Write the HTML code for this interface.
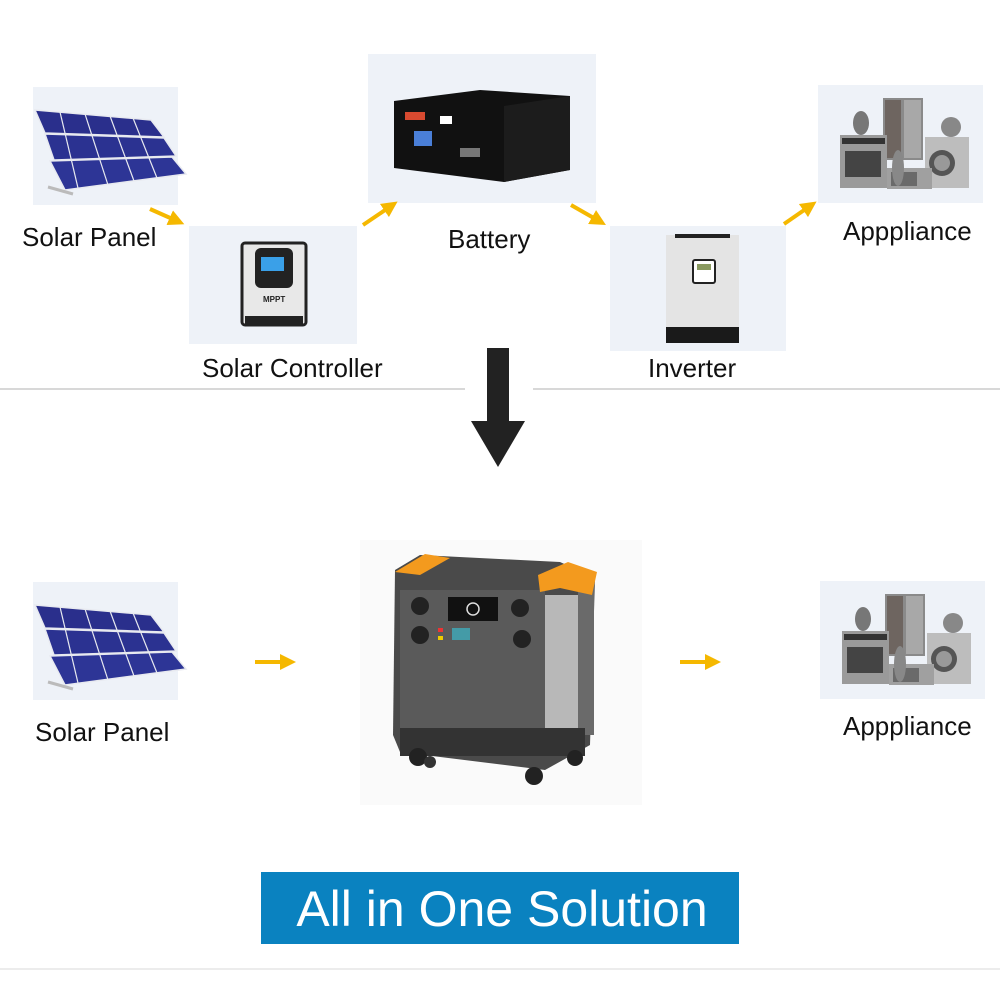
<!DOCTYPE html>
<html><head><meta charset="utf-8"><style>
html,body{margin:0;padding:0;background:#fff;}
svg{display:block;}
text{font-family:"Liberation Sans",Arial,sans-serif;}
</style></head><body>
<svg width="1000" height="1000" viewBox="0 0 1000 1000" xmlns="http://www.w3.org/2000/svg">
<defs>
  <g id="solar">
    <rect x="0" y="0" width="145" height="118" fill="#eef2f8"/>
    <polygon points="2,23 118,33 131,50 12,46" fill="#2a2f8c" stroke="#e8eaf0" stroke-width="1.5"/>
    <polygon points="12,47 131,51 143,69 21,73" fill="#2b3291" stroke="#e8eaf0" stroke-width="1.5"/>
    <polygon points="21,74 143,70 157,87 36,103" fill="#2d3596" stroke="#e8eaf0" stroke-width="1.5" transform="translate(-4,0)"/>
    <g stroke="#e8eaf0" stroke-width="1.2">
      <line x1="27" y1="25" x2="45" y2="101"/><line x1="52" y1="27" x2="75" y2="98"/>
      <line x1="77" y1="29" x2="101" y2="94"/><line x1="100" y1="31" x2="124" y2="91"/>
    </g>
    <line x1="15" y1="100" x2="40" y2="107" stroke="#bbb" stroke-width="3"/>
  </g>
  <g id="appl">
    <rect x="0" y="0" width="165" height="118" fill="#eef2f8"/>
    <rect x="65" y="13" width="40" height="62" fill="#8a8a8a"/>
    <rect x="67" y="15" width="16" height="58" fill="#6e6560"/>
    <rect x="86" y="15" width="17" height="58" fill="#a8a8a8"/>
    <rect x="22" y="50" width="47" height="53" fill="#9a9a9a"/>
    <rect x="27" y="66" width="36" height="26" fill="#444"/>
    <rect x="24" y="53" width="43" height="6" fill="#333"/>
    <rect x="107" y="52" width="44" height="51" fill="#bdbdbd"/>
    <circle cx="124" cy="78" r="13" fill="#555"/>
    <circle cx="124" cy="78" r="8" fill="#999"/>
    <rect x="69" y="83" width="45" height="21" fill="#a0a0a0"/>
    <rect x="73" y="87" width="26" height="14" fill="#6a6a6a"/>
    <ellipse cx="43" cy="38" rx="8" ry="12" fill="#777"/>
    <ellipse cx="80" cy="83" rx="6" ry="18" fill="#888"/>
    <ellipse cx="133" cy="42" rx="10" ry="10" fill="#888"/>
  </g>
  <marker id="ya" viewBox="0 0 10 10" refX="5" refY="5" markerWidth="4" markerHeight="4" orient="auto">
    <path d="M0,0 L10,5 L0,10 z" fill="#f5b800"/>
  </marker>
</defs>

<line x1="0" y1="389" x2="465" y2="389" stroke="#d8d8d8" stroke-width="2"/>
<line x1="533" y1="389" x2="1000" y2="389" stroke="#d8d8d8" stroke-width="2"/>
<line x1="0" y1="969" x2="1000" y2="969" stroke="#ececec" stroke-width="2"/>

<use href="#solar" x="33" y="87"/>
<text x="22" y="246" font-size="26" fill="#111">Solar Panel</text>

<rect x="189" y="226" width="168" height="118" fill="#eef2f8"/>
<rect x="242" y="243" width="64" height="82" rx="3" fill="#e8e8e8" stroke="#222" stroke-width="3"/>
<rect x="255" y="248" width="38" height="40" rx="6" fill="#222"/>
<rect x="261" y="257" width="23" height="14" fill="#3aa0e8"/>
<text x="263" y="302" font-size="8" font-weight="bold" fill="#222">MPPT</text>
<rect x="245" y="316" width="58" height="9" fill="#222"/>
<text x="202" y="377" font-size="26" fill="#111">Solar Controller</text>

<rect x="368" y="54" width="228" height="149" fill="#eef2f8"/>
<polygon points="394,101 480,90 570,96 570,170 504,182 394,168" fill="#111"/>
<polygon points="504,106 570,96 570,170 504,182" fill="#1c1c1c"/>
<rect x="405" y="112" width="20" height="8" fill="#d84a30"/>
<rect x="440" y="116" width="12" height="8" fill="#fff"/>
<rect x="414" y="131" width="18" height="15" fill="#4a7fd8"/>
<rect x="460" y="148" width="20" height="9" fill="#777"/>
<text x="448" y="248" font-size="26" fill="#111">Battery</text>

<rect x="610" y="226" width="176" height="125" fill="#eef2f8"/>
<rect x="666" y="235" width="73" height="108" fill="#e4e4e4"/>
<rect x="675" y="234" width="55" height="4" fill="#222"/>
<rect x="693" y="260" width="22" height="23" rx="2" fill="#fff" stroke="#222" stroke-width="2"/>
<rect x="697" y="264" width="14" height="6" fill="#8a9a60"/>
<rect x="666" y="327" width="73" height="16" fill="#1a1a1a"/>
<text x="648" y="377" font-size="26" fill="#111">Inverter</text>

<use href="#appl" x="818" y="85"/>
<text x="843" y="240" font-size="26" fill="#111">Apppliance</text>

<g stroke="#f5b800" stroke-width="4" fill="none" marker-end="url(#ya)">
  <line x1="150" y1="209" x2="177" y2="221"/>
  <line x1="363" y1="225" x2="391" y2="206"/>
  <line x1="571" y1="205" x2="599" y2="221"/>
  <line x1="784" y1="224" x2="810" y2="206"/>
</g>

<rect x="487" y="348" width="22" height="74" fill="#222"/>
<polygon points="471,421 525,421 498,467" fill="#222"/>

<use href="#solar" x="33" y="582"/>
<text x="35" y="741" font-size="26" fill="#111">Solar Panel</text>

<g stroke="#f5b800" stroke-width="4" fill="none" marker-end="url(#ya)">
  <line x1="255" y1="662" x2="288" y2="662"/>
  <line x1="680" y1="662" x2="713" y2="662"/>
</g>

<rect x="360" y="540" width="282" height="265" fill="#fafafa"/>
<polygon points="395,570 420,555 560,562 595,578 590,745 545,770 400,752 393,735" fill="#4a4a4a"/>
<rect x="400" y="590" width="145" height="155" fill="#5a5a5a"/>
<rect x="545" y="595" width="35" height="160" fill="#b8b8b8"/>
<rect x="578" y="585" width="16" height="150" fill="#6a6a6a"/>
<rect x="400" y="728" width="185" height="28" fill="#333"/>
<polygon points="395,572 425,554 450,558 420,575" fill="#f39a1e"/>
<polygon points="538,575 568,562 597,572 592,595 560,588 540,592" fill="#f39a1e"/>
<rect x="448" y="597" width="50" height="24" fill="#111"/>
<circle cx="473" cy="609" r="6" fill="none" stroke="#ddd" stroke-width="1.5"/>
<circle cx="420" cy="606" r="9" fill="#222"/><circle cx="420" cy="635" r="9" fill="#222"/>
<circle cx="520" cy="608" r="9" fill="#222"/><circle cx="522" cy="639" r="9" fill="#222"/>
<rect x="452" y="628" width="18" height="12" fill="#3ab7c8" opacity="0.7"/>
<rect x="438" y="628" width="5" height="4" fill="#e33"/><rect x="438" y="636" width="5" height="4" fill="#ec0"/>
<circle cx="418" cy="757" r="9" fill="#222"/><circle cx="575" cy="758" r="8" fill="#222"/>
<circle cx="534" cy="776" r="9" fill="#222"/><circle cx="430" cy="762" r="6" fill="#333"/>

<use href="#appl" x="820" y="581"/>
<text x="843" y="735" font-size="26" fill="#111">Apppliance</text>

<rect x="261" y="872" width="478" height="72" fill="#0a82c0"/>
<text x="502" y="926" font-size="50" fill="#fff" text-anchor="middle">All in One Solution</text>
</svg>
</body></html>
